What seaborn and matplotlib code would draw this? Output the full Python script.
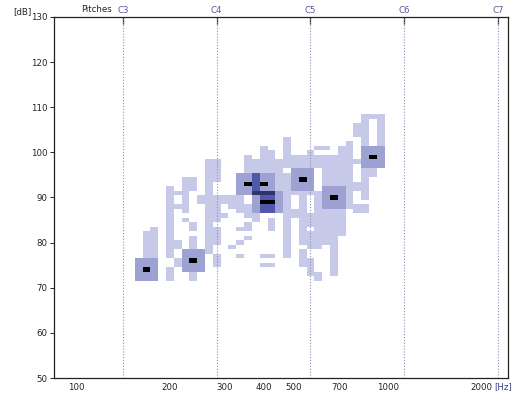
import numpy as np
import pandas as pd
import matplotlib
matplotlib.use("Agg")
import matplotlib.pyplot as plt
import seaborn as sns
from matplotlib.colors import ListedColormap
from matplotlib.transforms import ScaledTranslation

# ---------------- data ----------------
pitch_names = ["C3", "C4", "C5", "C6", "C7"]
pitch_semitones = [0, 12, 24, 36, 48]          # semitones above C3
C3_HZ = 130.81
freq_ticks = [100, 200, 300, 400, 500, 700, 1000, 2000]
db_ticks = [50, 60, 70, 80, 90, 100, 110, 120, 130]

# density peaks (semitone above C3, dB)
peak_semitone = [3, 9, 16, 18, 18, 19, 23, 27, 32]
peak_db = [74, 76, 93, 93, 89, 89, 94, 90, 99]

# light cells as vertical runs: semitone, low dB, high dB
run_semitone = [3, 4,
                6, 6,
                7, 7, 7, 7,
                8, 8,
                9, 9, 9, 9,
                10,
                11,
                12, 12, 12, 12,
                13, 13,
                14, 14,
                15, 15, 15, 15,
                16, 16, 16, 16,
                17, 17,
                18, 18, 18,
                19, 19, 19, 19,
                20,
                21, 21,
                22, 22, 22,
                23, 23, 23,
                24, 24, 24, 24, 24,
                25, 25, 25, 25,
                26, 26, 26,
                27, 27,
                28, 28,
                29,
                30, 30, 30, 30,
                31, 31, 31,
                32, 32,
                33]
run_db_low = [77, 77,
              77, 72,
              91, 88, 79, 75,
              87, 85,
              92, 83, 79, 72,
              89,
              78,
              94, 85, 80, 75,
              89, 86,
              88, 79,
              87, 83, 80, 77,
              96, 86, 83, 81,
              96, 85,
              96, 77, 75,
              96, 83, 77, 75,
              92,
              97, 77,
              97, 91, 86,
              97, 80, 75,
              97, 91, 84, 79, 73,
              101, 97, 79, 72,
              101, 93, 80,
              93, 73,
              93, 82,
              88,
              104, 98, 92, 87,
              102, 90, 87,
              108, 95,
              102]
run_db_high = [82, 83,
               92, 74,
               91, 88, 80, 76,
               94, 85,
               94, 84, 81, 73,
               90,
               98,
               98, 90, 83, 77,
               90, 86,
               90, 79,
               90, 83, 80, 77,
               99, 88, 84, 81,
               98, 86,
               101, 77, 75,
               100, 85, 77, 75,
               98,
               103, 95,
               99, 91, 87,
               99, 91, 78,
               100, 91, 86, 82, 76,
               101, 99, 91, 73,
               101, 99, 87,
               99, 87,
               101, 87,
               102,
               106, 98, 93, 88,
               108, 96, 88,
               108, 96,
               108]

# ---------------- grid ----------------
S_MIN, S_MAX = -9, 49
D_MIN, D_MAX = 50, 130
semis = np.arange(S_MIN, S_MAX + 1)
dbs = np.arange(D_MAX, D_MIN - 1, -1)
level = np.zeros((len(dbs), len(semis)))

def cell(s, d):
    return D_MAX - d, s - S_MIN

for s, lo, hi in zip(run_semitone, run_db_low, run_db_high):
    for d in range(lo, hi + 1):
        r, c = cell(s, d)
        level[r, c] = 1

count = np.zeros_like(level)
for s, d in zip(peak_semitone, peak_db):
    for ss in range(s - 1, s + 2):
        for dd in range(d - 2, d + 3):
            r, c = cell(ss, dd)
            count[r, c] += 1
level = np.where(count > 0, 1 + np.minimum(count, 3), level)
for s, d in zip(peak_semitone, peak_db):
    r, c = cell(s, d)
    level[r, c] = 5

df = pd.DataFrame(level, index=dbs, columns=semis)

# ---------------- plot ----------------
sns.set_theme(style="white")
plt.rcParams['font.family'] = ['DejaVu Sans']
fig = plt.figure(figsize=(5.23, 3.97), dpi=100)
ax = fig.add_axes([54 / 523, 1 - 378 / 397, (508 - 54) / 523, (378 - 17) / 397])

cmap = ListedColormap(["#c6c9e7", "#9da2d3", "#5158ab", "#2e336e", "#000000"])
sns.heatmap(df, mask=(level == 0), cmap=cmap, vmin=0.5, vmax=5.5, cbar=False,
            ax=ax, xticklabels=False, yticklabels=False, linewidths=0)

def xpos(s):
    return s - S_MIN + 0.5

def ypos(d):
    return D_MAX - d + 0.5

ax.set_xlim(xpos(-8.83), xpos(49.28))
ax.set_ylim(ypos(50), ypos(130))

for sp in ax.spines.values():
    sp.set_visible(True)
    sp.set_color("#222222")
    sp.set_linewidth(0.9)

# pitch lines
for s in pitch_semitones:
    ax.axvline(xpos(s), color="#8c8fb8", lw=0.8, ls=(0, (1, 1.6)), zorder=3)

# y ticks
ax.set_yticks([ypos(d) for d in db_ticks])
ax.set_yticklabels([str(d) for d in db_ticks])
ax.tick_params(axis='y', left=True, direction='out', length=3, width=0.7,
               pad=1.5, labelsize=6.2, colors="#222222")

# x ticks (Hz)
ax.set_xticks([xpos(12 * np.log2(f / C3_HZ)) for f in freq_ticks])
ax.set_xticklabels([str(f) for f in freq_ticks])
ax.tick_params(axis='x', bottom=True, length=0, pad=3.5, labelsize=6.2,
               labelcolor="#222222")
off = ScaledTranslation(-10.5 / 100, 0, fig.dpi_scale_trans)
for lab in ax.get_xticklabels():
    lab.set_transform(lab.get_transform() + off)

# top pitch axis
sec = ax.secondary_xaxis('top')
sec.set_xticks([xpos(s) for s in pitch_semitones])
sec.set_xticklabels(pitch_names)
sec.tick_params(direction='in', length=5, width=0.9, pad=1.5, labelsize=6.2,
                labelcolor="#55579a", color="#333333")
sec.spines['top'].set_visible(False)

fig.text(97 / 523, 1 - 10 / 397, "Pitches", ha='center', va='center',
         fontsize=6.2, color="#222222")
fig.text(31 / 523, 1 - 12 / 397, "[dB]", ha='right', va='center',
         fontsize=6.2, color="#222222")
fig.text(503 / 523, 1 - 387 / 397, "[Hz]", ha='center', va='center',
         fontsize=6.2, color="#3c3f8f")

fig.savefig("out.png", dpi=100)
